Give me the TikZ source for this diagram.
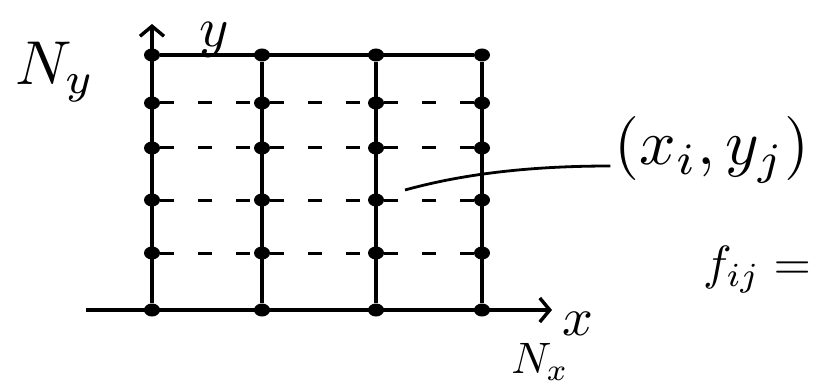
\documentclass[tikz,border=0pt]{standalone}
\usepackage{amsmath}
\usetikzlibrary{arrows.meta,shapes.geometric}
\begin{document}
\begin{tikzpicture}[x=1pt, y=-1pt, >={Straight Barb[length=10pt, width=24pt]},
    dot/.style={ellipse, fill, inner sep=0pt, minimum width=16pt, minimum height=13pt},
    grd/.style={line width=3.4pt},
    dsh/.style={line width=3pt, dash pattern=on 14pt off 24pt},
    lbl/.style={inner sep=0.5pt}]
  \useasboundingbox (0,0) rectangle (838,385);
  \foreach \c/\x in {1/152,2/262,3/376,4/482}
    \foreach \r/\y in {0/310,1/253,2/200,3/148,4/103,5/55}
      \node [dot] (p\c\r) at (\x,\y) {};
  % axes
  \coordinate (xs) at (86,310);
  \coordinate (xe) at (552,310);
  \coordinate (ye) at (152,24);
  \draw [grd, ->] (xs) -- (xe);
  \draw [grd, ->] (p10) -- (ye);
  % grid lines
  \draw [grd] (p15) -- (p45);
  \foreach \c in {2,3,4}
    \draw [grd] (p\c0) -- (p\c5);
  \foreach \r in {1,2,3,4}
    \draw [dsh] (p1\r) -- (p2\r) -- (p3\r) -- (p4\r);
  % labels
  \node [lbl, scale=5.6] (ly) at (214,40) {$y$};
  \node [lbl, scale=6.2] (lny) at (55,72) {$N_y$};
  \node [lbl, scale=5.4] (lx) at (578,324) {$x$};
  \node [lbl, scale=4.4] (lnx) at (540,362) {$N_x$};
  \node [lbl, scale=6.4] (xy) at (712,150) {$(x_i, y_j)$};
  \node [lbl, scale=4.8] (fij) at (757,270) {$f_{ij}=$};
  \coordinate (pt) at (405,190);
  \draw [line width=2.8pt] (pt) .. controls (470,172) and (540,166) .. ([yshift=-16pt]xy.west);
\end{tikzpicture}
\end{document}
